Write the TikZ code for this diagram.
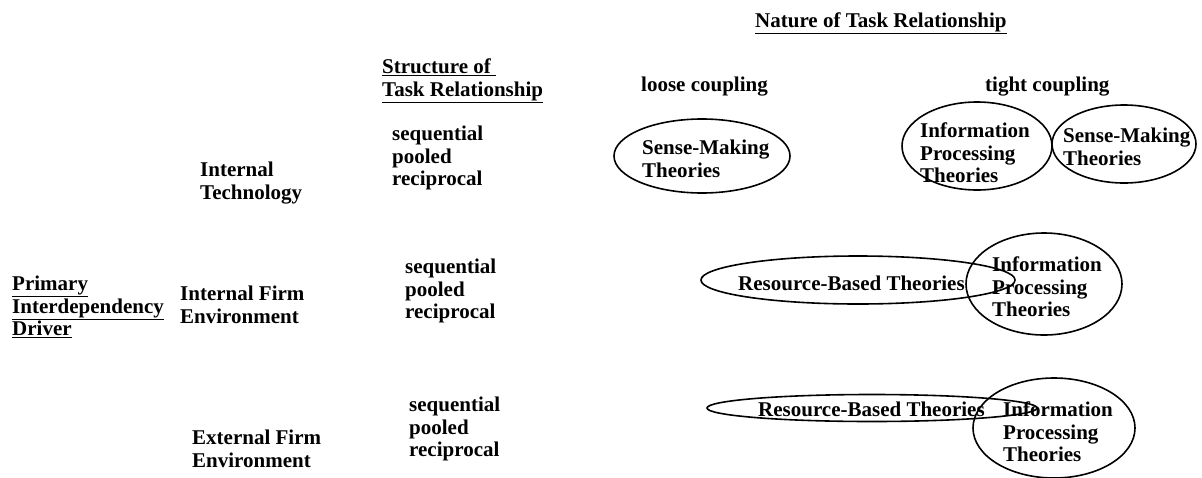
\documentclass[tikz,border=0pt]{standalone}
\usepackage{fontspec}
\setmainfont{Liberation Serif}
\usetikzlibrary{shapes.geometric}

\begin{document}
\begin{tikzpicture}[
    x=1pt, y=-1pt,
    font=\fontsize{21}{22.5}\selectfont\bfseries,
    lbl/.style={anchor=west, align=left, inner sep=0pt},
    oval/.style={ellipse, draw, line width=1.6pt, inner sep=0pt}
]
\useasboundingbox (0,0) rectangle (1202,477);

% column heads
\node[lbl] (nature) at (755,23) {\underline{Nature of Task Relationship}};
\node[lbl] (struct) at (382,81) {\underline{Structure of\ }\\\underline{Task Relationship}};
\node[lbl] (loose)  at (641,87) {loose coupling};
\node[lbl] (tight)  at (985,87) {tight coupling};

% row heads
\node[lbl] (driver) at (12,307)  {\underline{Primary}\\\underline{Interdependency}\\\underline{Driver}};
\node[lbl] (itech)  at (200,183) {Internal\\Technology};
\node[lbl] (ifirm)  at (180,305) {Internal Firm\\Environment};
\node[lbl] (efirm)  at (192,449) {External Firm\\Environment};

\node[lbl] (seq1) at (392,158) {sequential\\pooled\\reciprocal};
\node[lbl] (seq2) at (405,291) {sequential\\pooled\\reciprocal};
\node[lbl] (seq3) at (409,429) {sequential\\pooled\\reciprocal};

% internal technology
\node[oval, minimum width=176pt, minimum height=74pt] (sm1) at (702,156) {};
\node[lbl] (sm1t) at (642,159) {Sense-Making\\Theories};
\node[oval, minimum width=150pt, minimum height=88pt] (ip1) at (977,146) {};
\node[lbl] (ip1t) at (920,153) {Information\\Processing\\Theories};
\node[oval, minimum width=144pt, minimum height=78pt] (sm2) at (1124,144) {};
\node[lbl] (sm2t) at (1063,147) {Sense-Making\\Theories};

% internal firm environment
\node[oval, minimum width=314pt, minimum height=48pt] (rb2) at (858,280) {};
\node[lbl] (rb2t) at (738,283) {Resource-Based Theories};
\node[oval, minimum width=156pt, minimum height=102pt] (ip2) at (1044,284) {};
\node[lbl] (ip2t) at (992,287) {Information\\Processing\\Theories};

% external firm environment
\node[oval, minimum width=330pt, minimum height=27pt] (rb3) at (872,408) {};
\node[lbl] (rb3t) at (758,409) {Resource-Based Theories};
\node[oval, minimum width=162pt, minimum height=100pt] (ip3) at (1054,428) {};
\node[lbl] (ip3t) at (1003,432) {Information\\Processing\\Theories};

\end{tikzpicture}
\end{document}
